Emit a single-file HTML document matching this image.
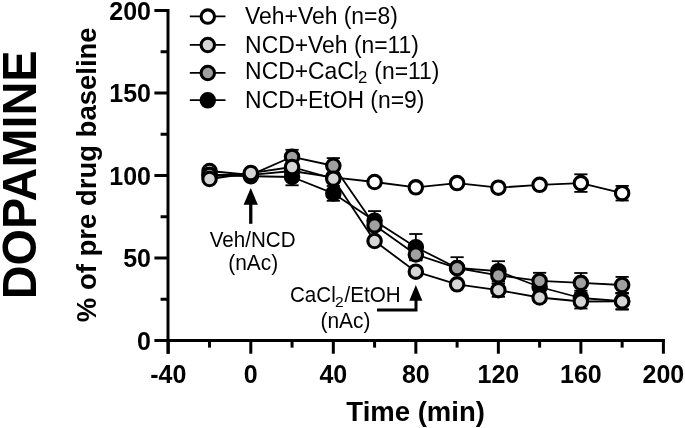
<!DOCTYPE html>
<html><head><meta charset="utf-8"><style>
html,body{margin:0;padding:0;background:#fff;width:685px;height:428px;overflow:hidden}
svg{display:block;will-change:transform;font-family:"Liberation Sans",sans-serif}
.tl{font-size:25px;font-weight:bold}
</style></head><body>
<svg width="685" height="428" viewBox="0 0 685 428">
<text transform="translate(35.80,299.30) rotate(-90) scale(1.0,1.04)" font-size="46.8" font-weight="bold">DOPAMINE</text>
<text transform="translate(95.60,322.20) rotate(-90) scale(1.0,1.03)" font-size="27.5" font-weight="bold">% of pre drug baseline</text>
<text transform="translate(415.60,420.60) scale(1.0,1.035)" font-size="27.5" font-weight="bold" text-anchor="middle">Time (min)</text>
<line x1="168" y1="9.0" x2="168" y2="353.7" stroke="#000" stroke-width="3"/>
<line x1="166.5" y1="340.5" x2="664.9000000000001" y2="340.5" stroke="#000" stroke-width="3"/>
<line x1="154.4" y1="340.50" x2="168" y2="340.50" stroke="#000" stroke-width="3"/>
<text transform="translate(151,349.50) scale(1,1.04)" text-anchor="end" class="tl">0</text>
<line x1="154.4" y1="258.00" x2="168" y2="258.00" stroke="#000" stroke-width="3"/>
<text transform="translate(151,267.00) scale(1,1.04)" text-anchor="end" class="tl">50</text>
<line x1="154.4" y1="175.50" x2="168" y2="175.50" stroke="#000" stroke-width="3"/>
<text transform="translate(151,184.50) scale(1,1.04)" text-anchor="end" class="tl">100</text>
<line x1="154.4" y1="93.00" x2="168" y2="93.00" stroke="#000" stroke-width="3"/>
<text transform="translate(151,102.00) scale(1,1.04)" text-anchor="end" class="tl">150</text>
<line x1="154.4" y1="10.50" x2="168" y2="10.50" stroke="#000" stroke-width="3"/>
<text transform="translate(151,19.50) scale(1,1.04)" text-anchor="end" class="tl">200</text>
<line x1="160.6" y1="299.25" x2="168" y2="299.25" stroke="#000" stroke-width="3"/>
<line x1="160.6" y1="216.75" x2="168" y2="216.75" stroke="#000" stroke-width="3"/>
<line x1="160.6" y1="134.25" x2="168" y2="134.25" stroke="#000" stroke-width="3"/>
<line x1="160.6" y1="51.75" x2="168" y2="51.75" stroke="#000" stroke-width="3"/>
<line x1="168.28" y1="340.5" x2="168.28" y2="353.7" stroke="#000" stroke-width="3"/>
<text transform="translate(168.28,382.5) scale(1,1.04)" text-anchor="middle" class="tl">-40</text>
<line x1="250.80" y1="340.5" x2="250.80" y2="353.7" stroke="#000" stroke-width="3"/>
<text transform="translate(250.80,382.5) scale(1,1.04)" text-anchor="middle" class="tl">0</text>
<line x1="333.32" y1="340.5" x2="333.32" y2="353.7" stroke="#000" stroke-width="3"/>
<text transform="translate(333.32,382.5) scale(1,1.04)" text-anchor="middle" class="tl">40</text>
<line x1="415.84" y1="340.5" x2="415.84" y2="353.7" stroke="#000" stroke-width="3"/>
<text transform="translate(415.84,382.5) scale(1,1.04)" text-anchor="middle" class="tl">80</text>
<line x1="498.36" y1="340.5" x2="498.36" y2="353.7" stroke="#000" stroke-width="3"/>
<text transform="translate(498.36,382.5) scale(1,1.04)" text-anchor="middle" class="tl">120</text>
<line x1="580.88" y1="340.5" x2="580.88" y2="353.7" stroke="#000" stroke-width="3"/>
<text transform="translate(580.88,382.5) scale(1,1.04)" text-anchor="middle" class="tl">160</text>
<line x1="663.40" y1="340.5" x2="663.40" y2="353.7" stroke="#000" stroke-width="3"/>
<text transform="translate(663.40,382.5) scale(1,1.04)" text-anchor="middle" class="tl">200</text>
<line x1="209.54" y1="340.5" x2="209.54" y2="347.6" stroke="#000" stroke-width="3"/>
<line x1="292.06" y1="340.5" x2="292.06" y2="347.6" stroke="#000" stroke-width="3"/>
<line x1="374.58" y1="340.5" x2="374.58" y2="347.6" stroke="#000" stroke-width="3"/>
<line x1="457.10" y1="340.5" x2="457.10" y2="347.6" stroke="#000" stroke-width="3"/>
<line x1="539.62" y1="340.5" x2="539.62" y2="347.6" stroke="#000" stroke-width="3"/>
<line x1="622.14" y1="340.5" x2="622.14" y2="347.6" stroke="#000" stroke-width="3"/>
<line x1="189.8" y1="16.45" x2="225.5" y2="16.45" stroke="#000" stroke-width="1.7"/>
<circle cx="207.8" cy="16.6" r="6.72" fill="#ffffff" stroke="#000" stroke-width="3.1"/>
<text transform="translate(245.10,24.20) scale(1.0,1.03)" font-size="22.9">Veh+Veh (n=8)</text>
<line x1="189.8" y1="44.85" x2="225.5" y2="44.85" stroke="#000" stroke-width="1.7"/>
<circle cx="207.8" cy="45.0" r="6.72" fill="#d6d6d6" stroke="#000" stroke-width="3.1"/>
<text transform="translate(245.10,53.00) scale(1.0,1.03)" font-size="22.9">NCD+Veh (n=11)</text>
<line x1="189.8" y1="72.85" x2="225.5" y2="72.85" stroke="#000" stroke-width="1.7"/>
<circle cx="207.8" cy="73.0" r="6.72" fill="#a0a0a0" stroke="#000" stroke-width="3.1"/>
<text transform="translate(245.10,78.60) scale(1.0,1.03)" font-size="22.9">NCD+CaCl</text>
<text transform="translate(358.10,83.10) scale(1.08,1.04)" font-size="15.5">2</text>
<text transform="translate(374.30,78.60) scale(1.0,1.03)" font-size="22.9">(n=11)</text>
<line x1="189.8" y1="100.15" x2="225.5" y2="100.15" stroke="#000" stroke-width="1.7"/>
<circle cx="207.8" cy="100.3" r="6.72" fill="#000000" stroke="#000" stroke-width="3.1"/>
<text transform="translate(245.10,107.60) scale(1.0,1.03)" font-size="22.9">NCD+EtOH (n=9)</text>
<polyline points="209.54,171.00 250.80,175.00 292.06,171.00 333.32,177.30 374.58,182.00 415.84,187.35 457.10,183.10 498.36,187.70 539.62,184.80 580.88,183.10 622.14,193.20" fill="none" stroke="#000" stroke-width="1.8" stroke-linejoin="round"/>
<line x1="209.54" y1="168.00" x2="209.54" y2="174.00" stroke="#000" stroke-width="1.8" />
<line x1="202.94" y1="168.00" x2="216.14" y2="168.00" stroke="#000" stroke-width="1.8" />
<line x1="202.94" y1="174.00" x2="216.14" y2="174.00" stroke="#000" stroke-width="1.8" />
<line x1="250.80" y1="172.00" x2="250.80" y2="178.00" stroke="#000" stroke-width="1.8" />
<line x1="244.20" y1="172.00" x2="257.40" y2="172.00" stroke="#000" stroke-width="1.8" />
<line x1="244.20" y1="178.00" x2="257.40" y2="178.00" stroke="#000" stroke-width="1.8" />
<line x1="292.06" y1="168.00" x2="292.06" y2="174.00" stroke="#000" stroke-width="1.8" />
<line x1="285.46" y1="168.00" x2="298.66" y2="168.00" stroke="#000" stroke-width="1.8" />
<line x1="285.46" y1="174.00" x2="298.66" y2="174.00" stroke="#000" stroke-width="1.8" />
<line x1="333.32" y1="174.30" x2="333.32" y2="180.30" stroke="#000" stroke-width="1.8" />
<line x1="326.72" y1="174.30" x2="339.92" y2="174.30" stroke="#000" stroke-width="1.8" />
<line x1="326.72" y1="180.30" x2="339.92" y2="180.30" stroke="#000" stroke-width="1.8" />
<line x1="374.58" y1="178.00" x2="374.58" y2="186.00" stroke="#000" stroke-width="1.8" />
<line x1="367.98" y1="178.00" x2="381.18" y2="178.00" stroke="#000" stroke-width="1.8" />
<line x1="367.98" y1="186.00" x2="381.18" y2="186.00" stroke="#000" stroke-width="1.8" />
<line x1="415.84" y1="183.35" x2="415.84" y2="191.35" stroke="#000" stroke-width="1.8" />
<line x1="409.24" y1="183.35" x2="422.44" y2="183.35" stroke="#000" stroke-width="1.8" />
<line x1="409.24" y1="191.35" x2="422.44" y2="191.35" stroke="#000" stroke-width="1.8" />
<line x1="457.10" y1="179.10" x2="457.10" y2="187.10" stroke="#000" stroke-width="1.8" />
<line x1="450.50" y1="179.10" x2="463.70" y2="179.10" stroke="#000" stroke-width="1.8" />
<line x1="450.50" y1="187.10" x2="463.70" y2="187.10" stroke="#000" stroke-width="1.8" />
<line x1="498.36" y1="183.70" x2="498.36" y2="191.70" stroke="#000" stroke-width="1.8" />
<line x1="491.76" y1="183.70" x2="504.96" y2="183.70" stroke="#000" stroke-width="1.8" />
<line x1="491.76" y1="191.70" x2="504.96" y2="191.70" stroke="#000" stroke-width="1.8" />
<line x1="539.62" y1="180.80" x2="539.62" y2="188.80" stroke="#000" stroke-width="1.8" />
<line x1="533.02" y1="180.80" x2="546.22" y2="180.80" stroke="#000" stroke-width="1.8" />
<line x1="533.02" y1="188.80" x2="546.22" y2="188.80" stroke="#000" stroke-width="1.8" />
<line x1="580.88" y1="174.30" x2="580.88" y2="191.90" stroke="#000" stroke-width="1.8" />
<line x1="574.28" y1="174.30" x2="587.48" y2="174.30" stroke="#000" stroke-width="1.8" />
<line x1="574.28" y1="191.90" x2="587.48" y2="191.90" stroke="#000" stroke-width="1.8" />
<line x1="622.14" y1="185.90" x2="622.14" y2="200.50" stroke="#000" stroke-width="1.8" />
<line x1="615.54" y1="185.90" x2="628.74" y2="185.90" stroke="#000" stroke-width="1.8" />
<line x1="615.54" y1="200.50" x2="628.74" y2="200.50" stroke="#000" stroke-width="1.8" />
<circle cx="209.54" cy="171.00" r="6.72" fill="#ffffff" stroke="#000" stroke-width="3.1"/>
<circle cx="250.80" cy="175.00" r="6.72" fill="#ffffff" stroke="#000" stroke-width="3.1"/>
<circle cx="292.06" cy="171.00" r="6.72" fill="#ffffff" stroke="#000" stroke-width="3.1"/>
<circle cx="333.32" cy="177.30" r="6.72" fill="#ffffff" stroke="#000" stroke-width="3.1"/>
<circle cx="374.58" cy="182.00" r="6.72" fill="#ffffff" stroke="#000" stroke-width="3.1"/>
<circle cx="415.84" cy="187.35" r="6.72" fill="#ffffff" stroke="#000" stroke-width="3.1"/>
<circle cx="457.10" cy="183.10" r="6.72" fill="#ffffff" stroke="#000" stroke-width="3.1"/>
<circle cx="498.36" cy="187.70" r="6.72" fill="#ffffff" stroke="#000" stroke-width="3.1"/>
<circle cx="539.62" cy="184.80" r="6.72" fill="#ffffff" stroke="#000" stroke-width="3.1"/>
<circle cx="580.88" cy="183.10" r="6.72" fill="#ffffff" stroke="#000" stroke-width="3.1"/>
<circle cx="622.14" cy="193.20" r="6.72" fill="#ffffff" stroke="#000" stroke-width="3.1"/>
<polyline points="209.54,175.50 250.80,176.20 292.06,177.00 333.32,193.40 374.58,220.70 415.84,247.20 457.10,268.00 498.36,271.20 539.62,287.00 580.88,298.00 622.14,301.20" fill="none" stroke="#000" stroke-width="1.8" stroke-linejoin="round"/>
<line x1="209.54" y1="172.50" x2="209.54" y2="178.50" stroke="#000" stroke-width="1.8" />
<line x1="202.94" y1="172.50" x2="216.14" y2="172.50" stroke="#000" stroke-width="1.8" />
<line x1="202.94" y1="178.50" x2="216.14" y2="178.50" stroke="#000" stroke-width="1.8" />
<line x1="250.80" y1="173.20" x2="250.80" y2="179.20" stroke="#000" stroke-width="1.8" />
<line x1="244.20" y1="173.20" x2="257.40" y2="173.20" stroke="#000" stroke-width="1.8" />
<line x1="244.20" y1="179.20" x2="257.40" y2="179.20" stroke="#000" stroke-width="1.8" />
<line x1="292.06" y1="168.70" x2="292.06" y2="185.30" stroke="#000" stroke-width="1.8" />
<line x1="285.46" y1="168.70" x2="298.66" y2="168.70" stroke="#000" stroke-width="1.8" />
<line x1="285.46" y1="185.30" x2="298.66" y2="185.30" stroke="#000" stroke-width="1.8" />
<line x1="333.32" y1="186.00" x2="333.32" y2="200.80" stroke="#000" stroke-width="1.8" />
<line x1="326.72" y1="186.00" x2="339.92" y2="186.00" stroke="#000" stroke-width="1.8" />
<line x1="326.72" y1="200.80" x2="339.92" y2="200.80" stroke="#000" stroke-width="1.8" />
<line x1="374.58" y1="211.10" x2="374.58" y2="230.30" stroke="#000" stroke-width="1.8" />
<line x1="367.98" y1="211.10" x2="381.18" y2="211.10" stroke="#000" stroke-width="1.8" />
<line x1="367.98" y1="230.30" x2="381.18" y2="230.30" stroke="#000" stroke-width="1.8" />
<line x1="415.84" y1="234.00" x2="415.84" y2="260.40" stroke="#000" stroke-width="1.8" />
<line x1="409.24" y1="234.00" x2="422.44" y2="234.00" stroke="#000" stroke-width="1.8" />
<line x1="409.24" y1="260.40" x2="422.44" y2="260.40" stroke="#000" stroke-width="1.8" />
<line x1="457.10" y1="257.20" x2="457.10" y2="272.00" stroke="#000" stroke-width="1.8" />
<line x1="450.50" y1="257.20" x2="463.70" y2="257.20" stroke="#000" stroke-width="1.8" />
<line x1="450.50" y1="272.00" x2="463.70" y2="272.00" stroke="#000" stroke-width="1.8" />
<line x1="498.36" y1="261.20" x2="498.36" y2="281.20" stroke="#000" stroke-width="1.8" />
<line x1="491.76" y1="261.20" x2="504.96" y2="261.20" stroke="#000" stroke-width="1.8" />
<line x1="491.76" y1="281.20" x2="504.96" y2="281.20" stroke="#000" stroke-width="1.8" />
<line x1="539.62" y1="281.00" x2="539.62" y2="293.00" stroke="#000" stroke-width="1.8" />
<line x1="533.02" y1="281.00" x2="546.22" y2="281.00" stroke="#000" stroke-width="1.8" />
<line x1="533.02" y1="293.00" x2="546.22" y2="293.00" stroke="#000" stroke-width="1.8" />
<line x1="580.88" y1="290.70" x2="580.88" y2="305.30" stroke="#000" stroke-width="1.8" />
<line x1="574.28" y1="290.70" x2="587.48" y2="290.70" stroke="#000" stroke-width="1.8" />
<line x1="574.28" y1="305.30" x2="587.48" y2="305.30" stroke="#000" stroke-width="1.8" />
<line x1="622.14" y1="292.80" x2="622.14" y2="309.60" stroke="#000" stroke-width="1.8" />
<line x1="615.54" y1="292.80" x2="628.74" y2="292.80" stroke="#000" stroke-width="1.8" />
<line x1="615.54" y1="309.60" x2="628.74" y2="309.60" stroke="#000" stroke-width="1.8" />
<circle cx="209.54" cy="175.50" r="6.72" fill="#000000" stroke="#000" stroke-width="3.1"/>
<circle cx="250.80" cy="176.20" r="6.72" fill="#000000" stroke="#000" stroke-width="3.1"/>
<circle cx="292.06" cy="177.00" r="6.72" fill="#000000" stroke="#000" stroke-width="3.1"/>
<circle cx="333.32" cy="193.40" r="6.72" fill="#000000" stroke="#000" stroke-width="3.1"/>
<circle cx="374.58" cy="220.70" r="6.72" fill="#000000" stroke="#000" stroke-width="3.1"/>
<circle cx="415.84" cy="247.20" r="6.72" fill="#000000" stroke="#000" stroke-width="3.1"/>
<circle cx="457.10" cy="268.00" r="6.72" fill="#000000" stroke="#000" stroke-width="3.1"/>
<circle cx="498.36" cy="271.20" r="6.72" fill="#000000" stroke="#000" stroke-width="3.1"/>
<circle cx="539.62" cy="287.00" r="6.72" fill="#000000" stroke="#000" stroke-width="3.1"/>
<circle cx="580.88" cy="298.00" r="6.72" fill="#000000" stroke="#000" stroke-width="3.1"/>
<circle cx="622.14" cy="301.20" r="6.72" fill="#000000" stroke="#000" stroke-width="3.1"/>
<polyline points="209.54,174.80 250.80,175.00 292.06,156.80 333.32,165.75 374.58,225.30 415.84,254.50 457.10,268.10 498.36,275.40 539.62,280.90 580.88,282.85 622.14,285.00" fill="none" stroke="#000" stroke-width="1.8" stroke-linejoin="round"/>
<line x1="209.54" y1="171.80" x2="209.54" y2="177.80" stroke="#000" stroke-width="1.8" />
<line x1="202.94" y1="171.80" x2="216.14" y2="171.80" stroke="#000" stroke-width="1.8" />
<line x1="202.94" y1="177.80" x2="216.14" y2="177.80" stroke="#000" stroke-width="1.8" />
<line x1="250.80" y1="172.00" x2="250.80" y2="178.00" stroke="#000" stroke-width="1.8" />
<line x1="244.20" y1="172.00" x2="257.40" y2="172.00" stroke="#000" stroke-width="1.8" />
<line x1="244.20" y1="178.00" x2="257.40" y2="178.00" stroke="#000" stroke-width="1.8" />
<line x1="292.06" y1="149.80" x2="292.06" y2="163.80" stroke="#000" stroke-width="1.8" />
<line x1="285.46" y1="149.80" x2="298.66" y2="149.80" stroke="#000" stroke-width="1.8" />
<line x1="285.46" y1="163.80" x2="298.66" y2="163.80" stroke="#000" stroke-width="1.8" />
<line x1="333.32" y1="158.10" x2="333.32" y2="173.40" stroke="#000" stroke-width="1.8" />
<line x1="326.72" y1="158.10" x2="339.92" y2="158.10" stroke="#000" stroke-width="1.8" />
<line x1="326.72" y1="173.40" x2="339.92" y2="173.40" stroke="#000" stroke-width="1.8" />
<line x1="374.58" y1="221.30" x2="374.58" y2="229.30" stroke="#000" stroke-width="1.8" />
<line x1="367.98" y1="221.30" x2="381.18" y2="221.30" stroke="#000" stroke-width="1.8" />
<line x1="367.98" y1="229.30" x2="381.18" y2="229.30" stroke="#000" stroke-width="1.8" />
<line x1="415.84" y1="249.50" x2="415.84" y2="259.50" stroke="#000" stroke-width="1.8" />
<line x1="409.24" y1="249.50" x2="422.44" y2="249.50" stroke="#000" stroke-width="1.8" />
<line x1="409.24" y1="259.50" x2="422.44" y2="259.50" stroke="#000" stroke-width="1.8" />
<line x1="457.10" y1="264.10" x2="457.10" y2="272.10" stroke="#000" stroke-width="1.8" />
<line x1="450.50" y1="264.10" x2="463.70" y2="264.10" stroke="#000" stroke-width="1.8" />
<line x1="450.50" y1="272.10" x2="463.70" y2="272.10" stroke="#000" stroke-width="1.8" />
<line x1="498.36" y1="267.40" x2="498.36" y2="283.40" stroke="#000" stroke-width="1.8" />
<line x1="491.76" y1="267.40" x2="504.96" y2="267.40" stroke="#000" stroke-width="1.8" />
<line x1="491.76" y1="283.40" x2="504.96" y2="283.40" stroke="#000" stroke-width="1.8" />
<line x1="539.62" y1="272.80" x2="539.62" y2="289.00" stroke="#000" stroke-width="1.8" />
<line x1="533.02" y1="272.80" x2="546.22" y2="272.80" stroke="#000" stroke-width="1.8" />
<line x1="533.02" y1="289.00" x2="546.22" y2="289.00" stroke="#000" stroke-width="1.8" />
<line x1="580.88" y1="273.00" x2="580.88" y2="292.70" stroke="#000" stroke-width="1.8" />
<line x1="574.28" y1="273.00" x2="587.48" y2="273.00" stroke="#000" stroke-width="1.8" />
<line x1="574.28" y1="292.70" x2="587.48" y2="292.70" stroke="#000" stroke-width="1.8" />
<line x1="622.14" y1="276.90" x2="622.14" y2="293.10" stroke="#000" stroke-width="1.8" />
<line x1="615.54" y1="276.90" x2="628.74" y2="276.90" stroke="#000" stroke-width="1.8" />
<line x1="615.54" y1="293.10" x2="628.74" y2="293.10" stroke="#000" stroke-width="1.8" />
<circle cx="209.54" cy="174.80" r="6.72" fill="#a0a0a0" stroke="#000" stroke-width="3.1"/>
<circle cx="250.80" cy="175.00" r="6.72" fill="#a0a0a0" stroke="#000" stroke-width="3.1"/>
<circle cx="292.06" cy="156.80" r="6.72" fill="#a0a0a0" stroke="#000" stroke-width="3.1"/>
<circle cx="333.32" cy="165.75" r="6.72" fill="#a0a0a0" stroke="#000" stroke-width="3.1"/>
<circle cx="374.58" cy="225.30" r="6.72" fill="#a0a0a0" stroke="#000" stroke-width="3.1"/>
<circle cx="415.84" cy="254.50" r="6.72" fill="#a0a0a0" stroke="#000" stroke-width="3.1"/>
<circle cx="457.10" cy="268.10" r="6.72" fill="#a0a0a0" stroke="#000" stroke-width="3.1"/>
<circle cx="498.36" cy="275.40" r="6.72" fill="#a0a0a0" stroke="#000" stroke-width="3.1"/>
<circle cx="539.62" cy="280.90" r="6.72" fill="#a0a0a0" stroke="#000" stroke-width="3.1"/>
<circle cx="580.88" cy="282.85" r="6.72" fill="#a0a0a0" stroke="#000" stroke-width="3.1"/>
<circle cx="622.14" cy="285.00" r="6.72" fill="#a0a0a0" stroke="#000" stroke-width="3.1"/>
<polyline points="209.54,179.00 250.80,173.00 292.06,167.00 333.32,178.70 374.58,241.00 415.84,271.70 457.10,284.30 498.36,290.20 539.62,297.50 580.88,301.50 622.14,301.40" fill="none" stroke="#000" stroke-width="1.8" stroke-linejoin="round"/>
<line x1="209.54" y1="176.00" x2="209.54" y2="182.00" stroke="#000" stroke-width="1.8" />
<line x1="202.94" y1="176.00" x2="216.14" y2="176.00" stroke="#000" stroke-width="1.8" />
<line x1="202.94" y1="182.00" x2="216.14" y2="182.00" stroke="#000" stroke-width="1.8" />
<line x1="250.80" y1="170.00" x2="250.80" y2="176.00" stroke="#000" stroke-width="1.8" />
<line x1="244.20" y1="170.00" x2="257.40" y2="170.00" stroke="#000" stroke-width="1.8" />
<line x1="244.20" y1="176.00" x2="257.40" y2="176.00" stroke="#000" stroke-width="1.8" />
<line x1="292.06" y1="163.00" x2="292.06" y2="171.00" stroke="#000" stroke-width="1.8" />
<line x1="285.46" y1="163.00" x2="298.66" y2="163.00" stroke="#000" stroke-width="1.8" />
<line x1="285.46" y1="171.00" x2="298.66" y2="171.00" stroke="#000" stroke-width="1.8" />
<line x1="333.32" y1="174.70" x2="333.32" y2="182.70" stroke="#000" stroke-width="1.8" />
<line x1="326.72" y1="174.70" x2="339.92" y2="174.70" stroke="#000" stroke-width="1.8" />
<line x1="326.72" y1="182.70" x2="339.92" y2="182.70" stroke="#000" stroke-width="1.8" />
<line x1="374.58" y1="237.00" x2="374.58" y2="245.00" stroke="#000" stroke-width="1.8" />
<line x1="367.98" y1="237.00" x2="381.18" y2="237.00" stroke="#000" stroke-width="1.8" />
<line x1="367.98" y1="245.00" x2="381.18" y2="245.00" stroke="#000" stroke-width="1.8" />
<line x1="415.84" y1="267.70" x2="415.84" y2="275.70" stroke="#000" stroke-width="1.8" />
<line x1="409.24" y1="267.70" x2="422.44" y2="267.70" stroke="#000" stroke-width="1.8" />
<line x1="409.24" y1="275.70" x2="422.44" y2="275.70" stroke="#000" stroke-width="1.8" />
<line x1="457.10" y1="281.30" x2="457.10" y2="287.30" stroke="#000" stroke-width="1.8" />
<line x1="450.50" y1="281.30" x2="463.70" y2="281.30" stroke="#000" stroke-width="1.8" />
<line x1="450.50" y1="287.30" x2="463.70" y2="287.30" stroke="#000" stroke-width="1.8" />
<line x1="498.36" y1="283.60" x2="498.36" y2="296.80" stroke="#000" stroke-width="1.8" />
<line x1="491.76" y1="283.60" x2="504.96" y2="283.60" stroke="#000" stroke-width="1.8" />
<line x1="491.76" y1="296.80" x2="504.96" y2="296.80" stroke="#000" stroke-width="1.8" />
<line x1="539.62" y1="293.50" x2="539.62" y2="301.50" stroke="#000" stroke-width="1.8" />
<line x1="533.02" y1="293.50" x2="546.22" y2="293.50" stroke="#000" stroke-width="1.8" />
<line x1="533.02" y1="301.50" x2="546.22" y2="301.50" stroke="#000" stroke-width="1.8" />
<line x1="580.88" y1="294.50" x2="580.88" y2="308.50" stroke="#000" stroke-width="1.8" />
<line x1="574.28" y1="294.50" x2="587.48" y2="294.50" stroke="#000" stroke-width="1.8" />
<line x1="574.28" y1="308.50" x2="587.48" y2="308.50" stroke="#000" stroke-width="1.8" />
<line x1="622.14" y1="293.60" x2="622.14" y2="309.20" stroke="#000" stroke-width="1.8" />
<line x1="615.54" y1="293.60" x2="628.74" y2="293.60" stroke="#000" stroke-width="1.8" />
<line x1="615.54" y1="309.20" x2="628.74" y2="309.20" stroke="#000" stroke-width="1.8" />
<circle cx="209.54" cy="179.00" r="6.72" fill="#d6d6d6" stroke="#000" stroke-width="3.1"/>
<circle cx="250.80" cy="173.00" r="6.72" fill="#d6d6d6" stroke="#000" stroke-width="3.1"/>
<circle cx="292.06" cy="167.00" r="6.72" fill="#d6d6d6" stroke="#000" stroke-width="3.1"/>
<circle cx="333.32" cy="178.70" r="6.72" fill="#d6d6d6" stroke="#000" stroke-width="3.1"/>
<circle cx="374.58" cy="241.00" r="6.72" fill="#d6d6d6" stroke="#000" stroke-width="3.1"/>
<circle cx="415.84" cy="271.70" r="6.72" fill="#d6d6d6" stroke="#000" stroke-width="3.1"/>
<circle cx="457.10" cy="284.30" r="6.72" fill="#d6d6d6" stroke="#000" stroke-width="3.1"/>
<circle cx="498.36" cy="290.20" r="6.72" fill="#d6d6d6" stroke="#000" stroke-width="3.1"/>
<circle cx="539.62" cy="297.50" r="6.72" fill="#d6d6d6" stroke="#000" stroke-width="3.1"/>
<circle cx="580.88" cy="301.50" r="6.72" fill="#d6d6d6" stroke="#000" stroke-width="3.1"/>
<circle cx="622.14" cy="301.40" r="6.72" fill="#d6d6d6" stroke="#000" stroke-width="3.1"/>
<!-- arrow 1 -->
<polygon points="250.75,188.0 243.6,204.8 257.9,204.8" fill="#000"/>
<line x1="250.75" y1="204" x2="250.75" y2="223.8" stroke="#000" stroke-width="3.3"/>
<!-- arrow 2 -->
<polygon points="415.8,284.9 409.3,300.7 422.4,300.7" fill="#000"/>
<polyline points="377,310 416,310 416,300" fill="none" stroke="#000" stroke-width="3"/>
<text transform="translate(252.60,246.60) scale(1.0,1.03)" font-size="20.6" text-anchor="middle">Veh/NCD</text>
<text transform="translate(253.20,269.50) scale(1.0,1.03)" font-size="20.9" text-anchor="middle">(nAc)</text>
<text transform="translate(290.00,302.20) scale(1.0,1.03)" font-size="20.6">CaCl</text>
<text transform="translate(335.00,306.80) scale(1.08,1.04)" font-size="14.5">2</text>
<text transform="translate(344.60,302.20) scale(1.0,1.03)" font-size="20.6">/EtOH</text>
<text transform="translate(345.40,328.40) scale(1.0,1.03)" font-size="20.9" text-anchor="middle">(nAc)</text>
</svg>
</body></html>
